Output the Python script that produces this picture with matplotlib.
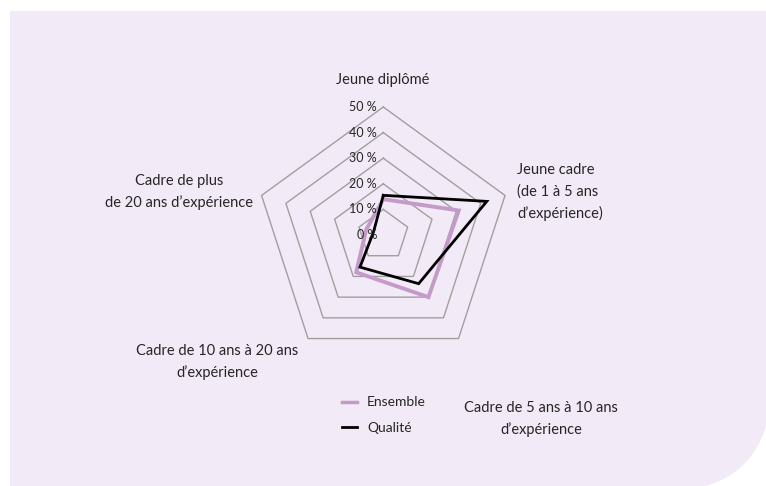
import numpy as np
import matplotlib
matplotlib.use("Agg")
import matplotlib.pyplot as plt
from matplotlib.path import Path
from matplotlib.patches import PathPatch
from matplotlib.lines import Line2D

plt.rcParams['font.family'] = ['Lato', 'DejaVu Sans']

# ── data (shares per experience level, %) ────────────────────────────────
categories = [
    "Jeune diplômé",
    "Jeune cadre\n(de 1 à 5 ans\nd’expérience)",
    "Cadre de 5 ans à 10 ans\nd’expérience",
    "Cadre de 10 ans à 20 ans\nd’expérience",
    "Cadre de plus\nde 20 ans d’expérience",
]
ensemble = [14, 31, 30, 18, 7]
qualite = [15.5, 42.5, 23.5, 15.5, 4]
ticks = [0, 10, 20, 30, 40, 50]
series_names = ["Ensemble", "Qualité"]

PINK = '#c49ac9'
BG = '#f2eaf6'
GRID = '#a0a0a0'
TXT = '#262626'

W, H = 766, 486
fig = plt.figure(figsize=(W / 100, H / 100), dpi=100)


def fx(px):
    return px / W


def fy(py):
    return 1 - py / H


# background panel with rounded bottom-right corner
cx, cy, R = 685, 405, 83.5
a_start = np.arcsin(np.sqrt(R**2 - (766 - cx) ** 2) / R)
arc = np.linspace(a_start, np.pi / 2 - a_start, 30)
verts = [(10, 11), (766, 11)]
verts += [(cx + R * np.cos(a), cy + R * np.sin(a)) for a in arc]
verts += [(10, 486), (10, 11)]
verts = [(fx(x), fy(y)) for x, y in verts]
bg = PathPatch(Path(verts, closed=True), facecolor=BG, edgecolor='none',
               transform=fig.transFigure, zorder=-5)
fig.patches.append(bg)

# ── radar ────────────────────────────────────────────────────────────────
ox, oy, rad = 383.3, 235, 128
ax = fig.add_axes([fx(ox - rad), fy(oy + rad), 2 * rad / W, 2 * rad / H],
                  projection='polar')
ax.set_theta_offset(np.pi / 2)
ax.set_theta_direction(-1)
ax.set_ylim(0, 50)
ax.set_axis_off()

n = len(categories)
ang = np.arange(n) * 2 * np.pi / n
ang_c = np.append(ang, ang[0])

for t in ticks[1:]:
    ax.plot(ang_c, [t] * (n + 1), color=GRID, lw=1.0, zorder=1, clip_on=False)

for t in ticks:
    ax.annotate(f"{t} %", xy=(0, t), xytext=(-4.5, 0),
                textcoords='offset points', ha='right', va='center',
                fontsize=9, color=TXT, zorder=3, annotation_clip=False)

ax.plot(ang_c, ensemble + ensemble[:1], color=PINK, lw=2.8, zorder=2,
        solid_joinstyle='miter', clip_on=False)
ax.plot(ang_c, qualite + qualite[:1], color='black', lw=2.0, zorder=2.5,
        solid_joinstyle='miter', clip_on=False)

# category labels
lab_pos = [(383, 80, 'center'), (517, 192, 'left'), (541, 419, 'center'),
           (217, 362, 'center'), (179, 192, 'center')]
for txt, (px, py, ha) in zip(categories, lab_pos):
    fig.text(fx(px), fy(py), txt, ha=ha, va='center', multialignment=ha,
             fontsize=10.5, color=TXT, linespacing=1.6)

handles = [Line2D([], [], color=PINK, lw=2.5),
           Line2D([], [], color='black', lw=2.0)]
fig.legend(handles, series_names, loc='center',
           bbox_to_anchor=(fx(384), fy(415)), frameon=False, fontsize=10,
           handlelength=1.1, handletextpad=0.7, labelspacing=0.95,
           labelcolor=TXT)

fig.savefig('out.png', dpi=100)
